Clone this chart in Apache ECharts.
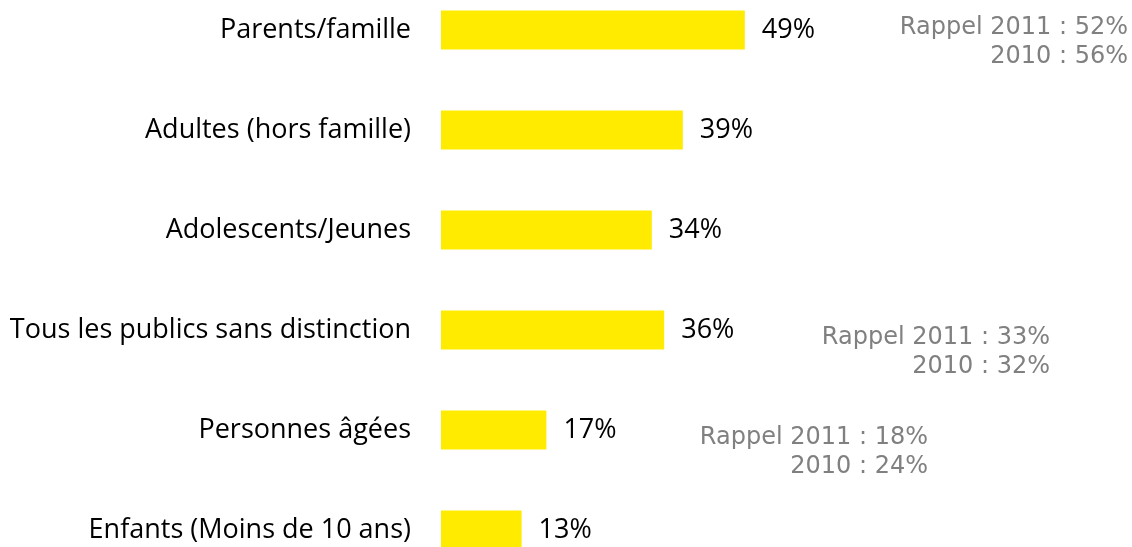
<!DOCTYPE html>
<html>
<head>
<meta charset="utf-8">
<script src="https://cdn.jsdelivr.net/npm/echarts@6/dist/echarts.min.js"></script>
<style>
  html, body { margin: 0; padding: 0; background: #fff; }
  #chart { width: 1132px; height: 547px; }
</style>
</head>
<body>
<div id="chart"></div>
<script>
// categories, top to bottom
var categories = ['Parents/famille', 'Adultes (hors famille)', 'Adolescents/Jeunes',
  'Tous les publics sans distinction', 'Personnes âgées', 'Enfants (Moins de 10 ans)'];
var values = [49, 39, 34, 36, 17, 13];

// reminder notes (previous years) for some rows
var noteRows = [0, 3, 4];
var noteLine1 = ['Rappel 2011 : 52%', 'Rappel 2011 : 33%', 'Rappel 2011 : 18%'];
var noteLine2 = ['2010 : 56%', '2010 : 32%', '2010 : 24%'];
var noteRight = [1128, 1050, 928];
var noteDy = [-17, -7, -7];

var chart = echarts.init(document.getElementById('chart'));

var option = {
  animation: false,
  grid: { left: 441, top: -20, width: 620, height: 600, containLabel: false, outerBoundsMode: 'none' },
  xAxis: {
    type: 'value', min: 0, max: 100,
    show: false
  },
  yAxis: {
    type: 'category',
    inverse: true,
    data: categories,
    axisLine: { show: false },
    axisTick: { show: false },
    axisLabel: {
      margin: 30,
      color: '#000',
      fontFamily: 'Open Sans',
      fontSize: 27
    }
  },
  series: [{
    type: 'bar',
    data: values,
    barWidth: 39,
    itemStyle: { color: '#FFEB00' },
    label: {
      show: true,
      position: 'right',
      distance: 17,
      color: '#000',
      fontFamily: 'Open Sans',
      fontSize: 27,
      formatter: '{c}%'
    }
  }]
};
chart.setOption(option);

// place the grey notes next to their rows
var notes = [];
noteRows.forEach(function (row, i) {
  var y = chart.convertToPixel({ yAxisIndex: 0 }, row);
  notes.push({
    type: 'text',
    x: noteRight[i],
    y: y + noteDy[i],
    style: {
      text: noteLine1[i] + '\n' + noteLine2[i],
      align: 'right',
      verticalAlign: 'top',
      fill: '#808080',
      font: '24px "DejaVu Sans"',
      lineHeight: 29
    }
  });
});
chart.setOption({ graphic: notes });
</script>
</body>
</html>
